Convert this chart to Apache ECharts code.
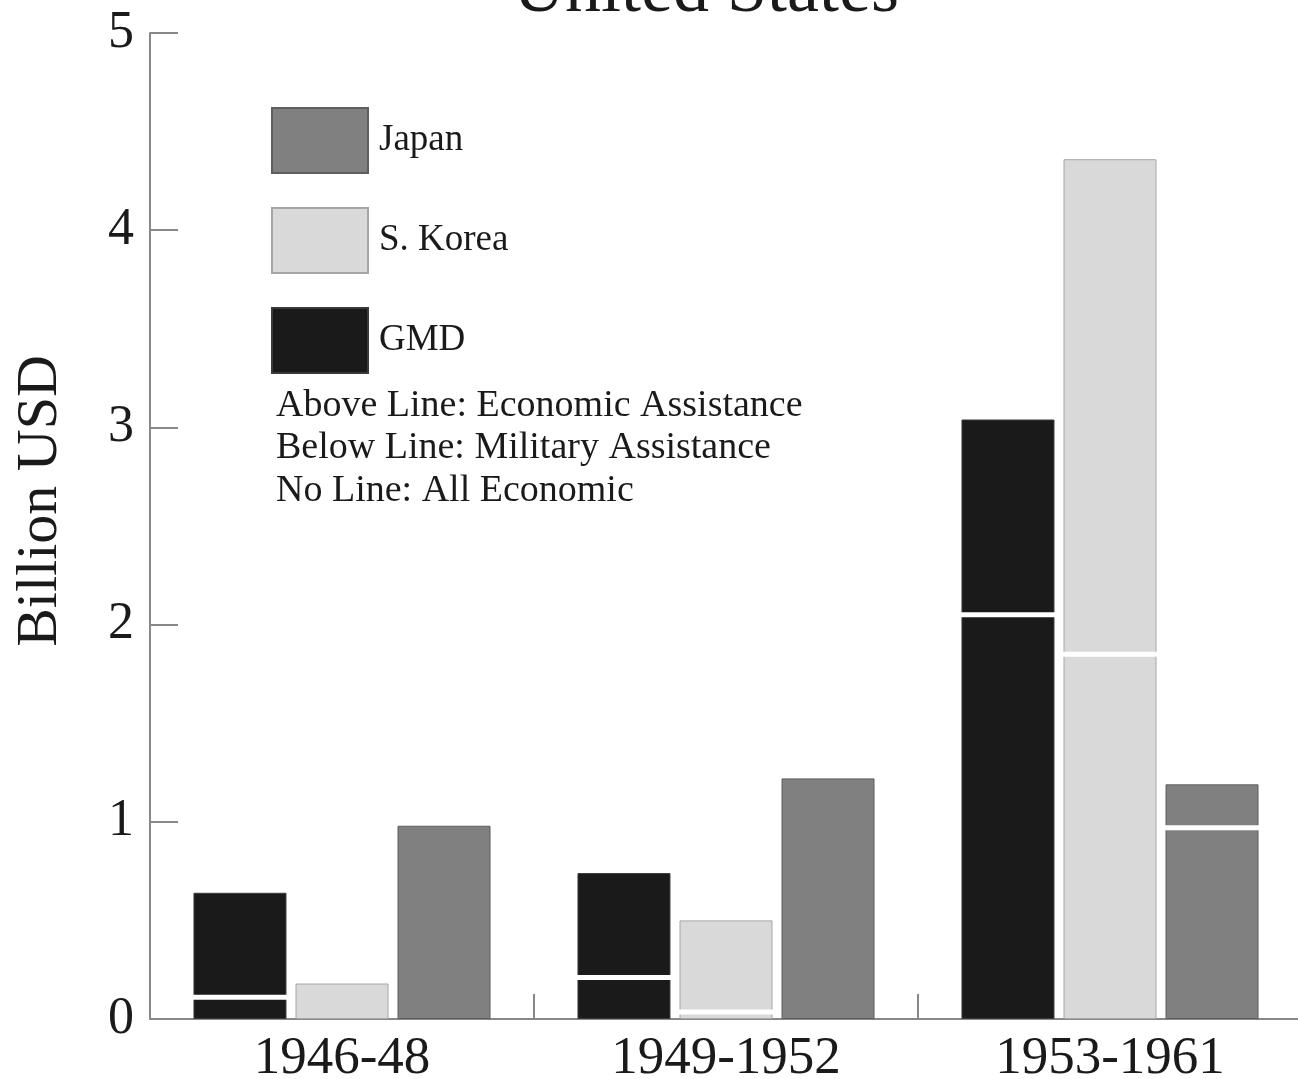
<!DOCTYPE html>
<html>
<head>
<meta charset="utf-8">
<script src="https://cdn.jsdelivr.net/npm/echarts@6/dist/echarts.min.js"></script>
<style>
    html, body { margin: 0; padding: 0; background: #fff; }
    #chart { width: 1298px; height: 1079px; }
</style>
</head>
<body>
<div id="chart"></div>
<script>
const FONT = '"Liberation Serif", "Times New Roman", serif';

const periods = ['1946-48', '1949-1952', '1953-1961'];

// billion USD, military below the white line, economic above it
const gmdMilitary = [0.11, 0.21, 2.05];
const gmdEconomic = [0.53, 0.53, 0.99];
const koreaMilitary = [0, 0.035, 1.85];
const koreaEconomic = [0.18, 0.465, 2.51];
const japanMilitary = [0, 0, 0.97];
const japanEconomic = [0.98, 1.22, 0.22];

const yTicks = [0, 1, 2, 3, 4, 5];

const notes = [
    'Above Line: Economic Assistance',
    'Below Line: Military Assistance',
    'No Line: All Economic'
];

const BAR_W = 93;
const BAR_GAP = 9;

const countries = [
    {name: 'GMD', military: gmdMilitary, economic: gmdEconomic, color: '#1a1a1a', border: '#3a3a3a'},
    {name: 'S. Korea', military: koreaMilitary, economic: koreaEconomic, color: '#d9d9d9', border: '#a6a6a6'},
    {name: 'Japan', military: japanMilitary, economic: japanEconomic, color: '#808080', border: '#5e5e5e'},
];

function buildBars(country) {
    const style = {color: country.color, borderColor: country.border, borderWidth: 1};
    const base = {
        name: country.name,
        type: 'bar',
        stack: country.name,
        barWidth: BAR_W,
        barGap: (BAR_GAP / BAR_W * 100).toFixed(1) + '%',
        itemStyle: style,
        emphasis: {disabled: true},
    };
    return [
        {...base, data: country.military.map(v => v === 0 ? '-' : v)},
        {...base, data: country.economic},
    ];
}

// white separator where a bar has both military and economic parts
const separators = [];
countries.forEach((c, slot) => {
    c.military.forEach((m, i) => {
        if (m > 0 && c.economic[i] > 0) separators.push([i, m, slot - 1]);
    });
});

const chart = echarts.init(document.getElementById('chart'));

const option = {
    animation: false,
    textStyle: {fontFamily: FONT},
    grid: {left: 150, right: -4, top: 33, bottom: 60, containLabel: false, outerBoundsMode: 'none'},
    legend: {
        left: 271,
        top: 107,
        orient: 'vertical',
        itemWidth: 96,
        itemHeight: 65,
        itemGap: 33,
        padding: 0,
        icon: 'rect',
        selectedMode: false,
        data: ['Japan', 'S. Korea', 'GMD'],
        textStyle: {fontFamily: FONT, fontSize: 37, color: '#1a1a1a', padding: [8, 0, 0, 6]},
    },
    xAxis: {
        type: 'category',
        data: periods,
        axisLine: {lineStyle: {color: '#888', width: 2}},
        axisTick: {show: true, interval: 0, inside: true, length: 25, lineStyle: {color: '#888', width: 2}},
        axisLabel: {fontFamily: FONT, fontSize: 53, color: '#1a1a1a', margin: 14},
    },
    yAxis: {
        type: 'value',
        min: yTicks[0],
        max: yTicks[yTicks.length - 1],
        interval: 1,
        splitLine: {show: false},
        axisLine: {show: true, lineStyle: {color: '#888', width: 2}},
        axisTick: {show: true, inside: true, length: 28, lineStyle: {color: '#888', width: 2}},
        axisLabel: {fontFamily: FONT, fontSize: 52, color: '#1a1a1a', margin: 16, padding: [6, 0, 0, 0]},
    },
    series: [
        ...countries.flatMap(buildBars),
        {
            type: 'custom',
            name: 'separator',
            z: 5,
            data: separators,
            encode: {x: 0, y: 1},
            renderItem: (params, api) => {
                const pt = api.coord([api.value(0), api.value(1)]);
                const cx = pt[0] + api.value(2) * (BAR_W + BAR_GAP);
                return {
                    type: 'rect',
                    shape: {x: cx - BAR_W / 2 - 2, y: pt[1] - 2.5, width: BAR_W + 4, height: 5},
                    style: {fill: '#fff'},
                };
            },
        },
    ],
    graphic: [
        {
            type: 'text',
            x: 706, y: -8,
            style: {text: 'United States', font: '72px ' + FONT, fill: '#1a1a1a', align: 'center', verticalAlign: 'middle'},
        },
        {
            type: 'text',
            x: 41, y: 501,
            rotation: Math.PI / 2,
            style: {text: 'Billion USD', font: '58px ' + FONT, fill: '#1a1a1a', align: 'center', verticalAlign: 'middle'},
        },
        ...notes.map((t, i) => ({
            type: 'text',
            x: 276, y: 406 + i * 42.5,
            style: {text: t, font: '38px ' + FONT, fill: '#1a1a1a', align: 'left', verticalAlign: 'middle'},
        })),
    ],
};

chart.setOption(option);
</script>
</body>
</html>
